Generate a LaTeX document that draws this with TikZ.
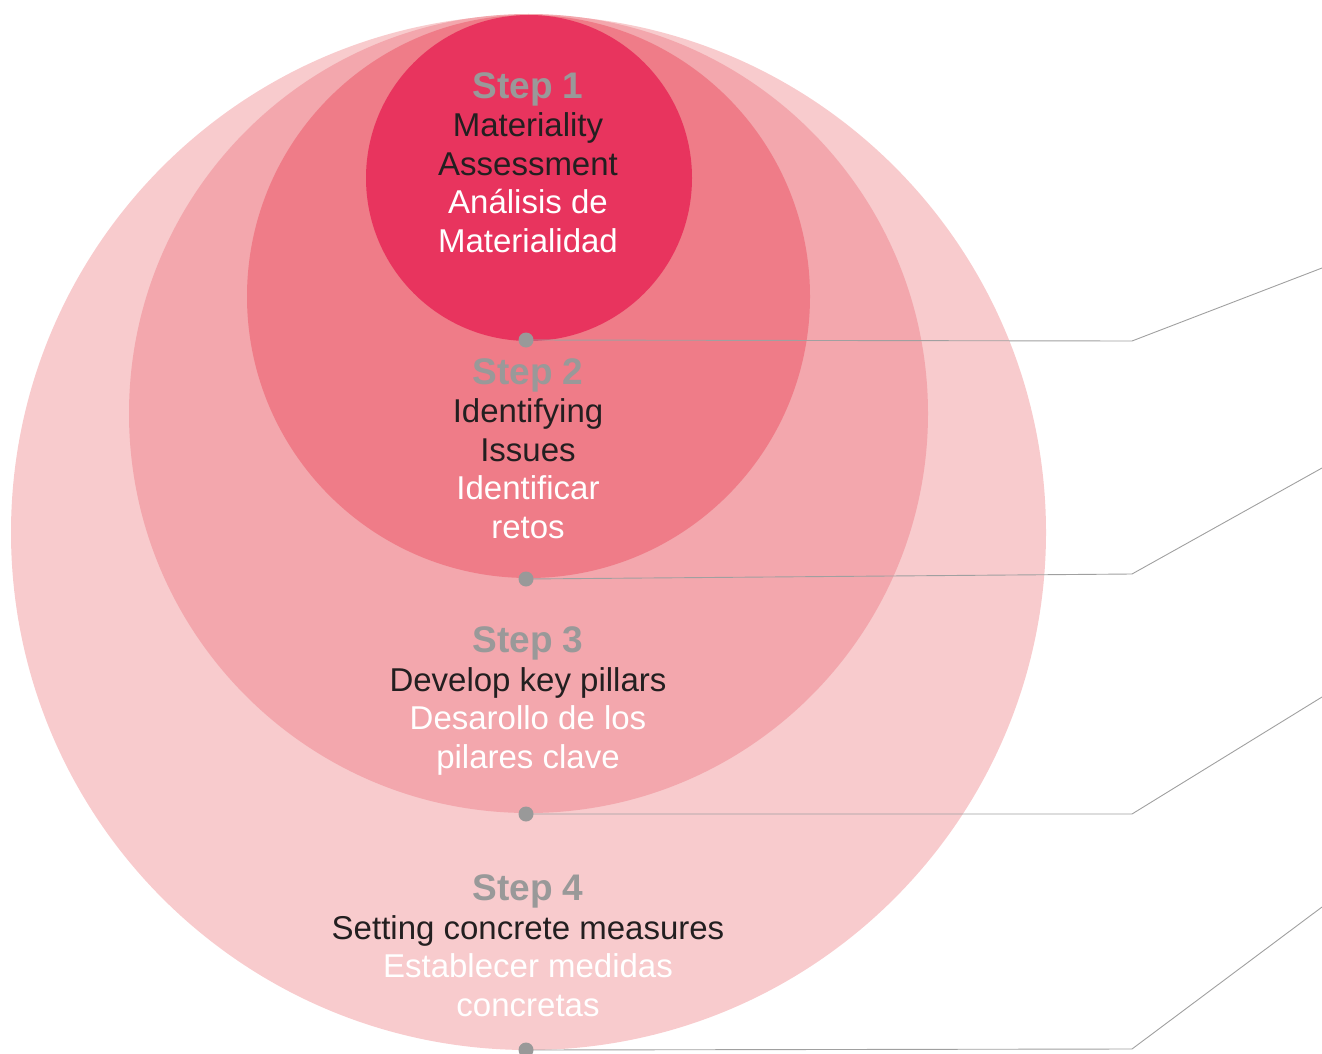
\documentclass[tikz,border=0pt]{standalone}
\usepackage{fontspec}
\setmainfont{Liberation Sans}
\usepackage{tikz}
\usetikzlibrary{positioning}

\definecolor{ringA}{HTML}{E8345E}
\definecolor{ringB}{HTML}{EF7C88}
\definecolor{ringC}{HTML}{F3A7AD}
\definecolor{ringD}{HTML}{F8CBCD}
\definecolor{titlegrey}{HTML}{999999}
\definecolor{ink}{HTML}{231F20}
\definecolor{leadgrey}{HTML}{A0A0A0}

\newcommand{\steptitle}[1]{{\bfseries\fontsize{37}{38.5}\selectfont\color{titlegrey}#1}}
\newcommand{\entxt}[1]{{\color{ink}#1}}

\begin{document}
\begin{tikzpicture}[x=1pt, y=-1pt,
    ring/.style = {circle, inner sep=0pt, minimum size=#1},
    pin/.style = {circle, fill=titlegrey, inner sep=0pt, minimum size=15pt},
    lead/.style = {draw=leadgrey, line width=0.9pt},
    steptxt/.style = {align=center, anchor=base, text=white,
        font={\fontsize{33}{38.5}\selectfont}}]
    \useasboundingbox (0,0) rectangle (1322,1054);

    \node[ring=1035pt, fill=ringD] (c4) at (528.5,532.5) {};
    \node[ring=799pt, fill=ringC] (c3) at (528.5,413.5) {};
    \node[ring=563pt, fill=ringB] (c2) at (528.5,296.5) {};
    \node[ring=326pt, fill=ringA] (c1) at (529,178) {};

    % anchor base sits on the last line
    \node[steptxt] (s1) at (528,252) {\steptitle{Step 1}\\ \entxt{Materiality}\\ \entxt{Assessment}\\ Análisis de\\ Materialidad};
    \node[steptxt] (s2) at (528,538) {\steptitle{Step 2}\\ \entxt{Identifying}\\ \entxt{Issues}\\ Identificar\\ retos};
    \node[steptxt] (s3) at (528,768) {\steptitle{Step 3}\\ \entxt{Develop key pillars}\\ Desarollo de los\\ pilares clave};
    \node[steptxt] (s4) at (528,1016) {\steptitle{Step 4}\\ \entxt{Setting concrete measures}\\ Establecer medidas\\ concretas};

    \coordinate (p1) at (526,340);
    \coordinate (p2) at (526,579);
    \coordinate (p3) at (526,814);
    \coordinate (p4) at (526,1050);

    \coordinate (k1) at (1132,341);
    \coordinate (k2) at (1132,574);
    \coordinate (k3) at (1132,814);
    \coordinate (k4) at (1132,1049);

    \coordinate (e1) at (1322,268);
    \coordinate (e2) at (1322,468);
    \coordinate (e3) at (1322,697);
    \coordinate (e4) at (1322,907);

    \foreach \i in {1,...,4} {
        \draw[lead] (p\i) -- (k\i) -- (e\i);
        \node[pin] (d\i) at (p\i) {};
    }
\end{tikzpicture}
\end{document}
